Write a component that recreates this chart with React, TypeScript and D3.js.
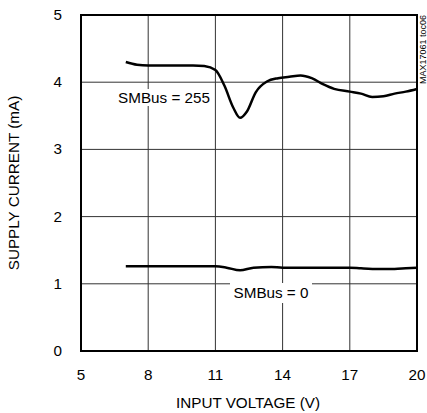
import React from "react";
import * as d3 from "d3";

const xTicks = [5, 8, 11, 14, 17, 20];
const yTicks = [0, 1, 2, 3, 4, 5];
const vin255 = [7, 7.5, 8, 9, 10, 10.5, 11, 11.4, 11.8, 12.1, 12.4, 12.8, 13.3, 13.8, 14.3, 14.8, 15.3, 15.8, 16.3, 17, 17.5, 18, 18.5, 19, 19.5, 20];
const i255 = [4.3, 4.26, 4.25, 4.25, 4.25, 4.24, 4.18, 3.95, 3.62, 3.47, 3.56, 3.85, 4.01, 4.06, 4.08, 4.1, 4.06, 3.97, 3.9, 3.86, 3.83, 3.78, 3.79, 3.83, 3.86, 3.9];
const vin0 = [7, 8, 9, 10, 11, 11.5, 12.1, 12.7, 13.5, 14, 15, 16, 17, 17.5, 18.3, 19, 19.5, 20];
const i0 = [1.26, 1.26, 1.26, 1.26, 1.26, 1.24, 1.2, 1.24, 1.25, 1.24, 1.24, 1.24, 1.24, 1.23, 1.22, 1.22, 1.23, 1.24];

const W = 427, H = 413;
const L = 81, R = 417, T = 15, B = 351;
const font = "'Liberation Sans', Arial, sans-serif";
const fs = 14;
const sx = 1.09;

function T2({ x, y, anchor, children }: { x: number; y: number; anchor: string; children: React.ReactNode }) {
  return (
    <text transform={`translate(${x},${y}) scale(${sx},1)`} textAnchor={anchor} fontSize={fs} fill="#000">{children}</text>
  );
}

export default function App() {
  const x = d3.scaleLinear().domain([5, 20]).range([L, R]);
  const y = d3.scaleLinear().domain([0, 5]).range([B, T]);
  const line = d3.line<[number, number]>().x(d => x(d[0])).y(d => y(d[1])).curve(d3.curveMonotoneX);
  const d255 = line(vin255.map((v, i) => [v, i255[i]]) as [number, number][]) || "";
  const d0 = line(vin0.map((v, i) => [v, i0[i]]) as [number, number][]) || "";
  return (
    <svg width={W} height={H} style={{ position: "absolute", left: 0, top: 0 }} fontFamily={font}>
      <rect x={0} y={0} width={W} height={H} fill="#fff" />
      {yTicks.slice(1, -1).map(t => (
        <line key={"gy" + t} x1={L} x2={R} y1={y(t)} y2={y(t)} stroke="#333" strokeWidth={1} />
      ))}
      {xTicks.slice(1, -1).map(t => (
        <line key={"gx" + t} x1={x(t)} x2={x(t)} y1={T} y2={B} stroke="#333" strokeWidth={1} />
      ))}
      <path d={d255} fill="none" stroke="#000" strokeWidth={2.5} />
      <path d={d0} fill="none" stroke="#000" strokeWidth={2.5} />
      <rect x={117} y={89} width={94} height={17} fill="#fff" />
      <T2 x={164} y={103} anchor="middle">SMBus = 255</T2>
      <rect x={230} y={283} width={82} height={20} fill="#fff" />
      <T2 x={271} y={298} anchor="middle">SMBus = 0</T2>
      <rect x={L} y={T} width={R - L} height={B - T} fill="none" stroke="#000" strokeWidth={2} />
      {yTicks.map(t => (
        <T2 key={"ty" + t} x={62} y={y(t) + 5} anchor="end">{t}</T2>
      ))}
      {xTicks.map(t => (
        <T2 key={"tx" + t} x={x(t)} y={380} anchor="middle">{t}</T2>
      ))}
      <T2 x={(L + R) / 2 - 1} y={408} anchor="middle">INPUT VOLTAGE (V)</T2>
      <text transform={`translate(19,${(T + B) / 2}) rotate(-90) scale(${sx},1)`} textAnchor="middle" fontSize={fs} fill="#000">SUPPLY CURRENT (mA)</text>
      <text transform={`translate(425.5,15) rotate(-90)`} textAnchor="end" fontSize={9} fill="#000">MAX17061 toc06</text>
    </svg>
  );
}
